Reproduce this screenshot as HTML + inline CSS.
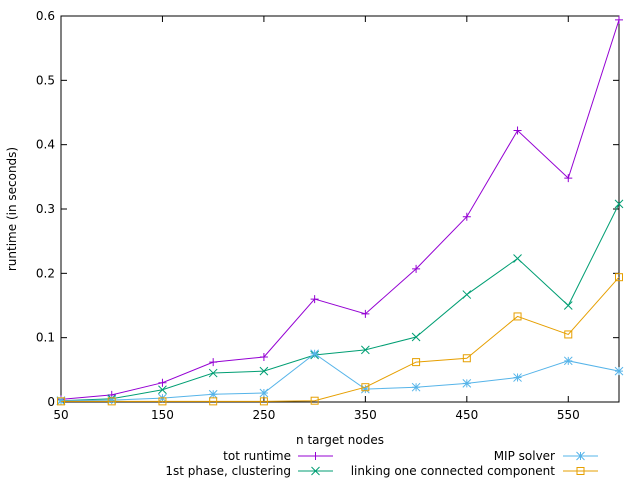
<!DOCTYPE html>
<html><head><meta charset="utf-8"><style>
body{margin:0;background:#fff}
svg{font-family:"DejaVu Sans","Liberation Sans",sans-serif;font-size:12px}
</style></head><body>
<svg id="c" width="640" height="480"></svg>
<script>
const categories=[50,100,150,200,250,300,350,400,450,500,550,600];
const totRuntime=[0.004,0.011,0.030,0.062,0.070,0.160,0.137,0.207,0.288,0.422,0.348,0.594];
const clustering=[0.002,0.005,0.019,0.045,0.048,0.073,0.081,0.101,0.167,0.223,0.150,0.308];
const mipSolver=[0.002,0.003,0.006,0.012,0.014,0.075,0.020,0.023,0.029,0.038,0.064,0.048];
const linking=[0.001,0.001,0.001,0.001,0.001,0.002,0.023,0.062,0.068,0.133,0.105,0.194];
const xTicks=[50,150,250,350,450,550];
const yTicks=[0,0.1,0.2,0.3,0.4,0.5,0.6];
const NS="http://www.w3.org/2000/svg";
const svg=document.getElementById('c');
const L=61,R=619,T=16,B=402;
const xs=v=>L+(v-50)/550*(R-L);
const ys=v=>B-v/0.6*(B-T);
function mk(t,a,p){const e=document.createElementNS(NS,t);for(const k in a)e.setAttribute(k,a[k]);(p||svg).appendChild(e);return e;}
for(const t of yTicks){
 const y=ys(t);
 const g=mk('line',{x1:L,x2:L+6,y1:y,y2:y,stroke:'#000'});
 
 
 mk('line',{x1:R,x2:R-6,y1:y,y2:y,stroke:'#000'});
 const tx=mk('text',{x:L-6,y:y+4,'text-anchor':'end'});tx.textContent=t;
 
 
}
for(const t of xTicks){
 const x=xs(t);
 if(t>50){mk('line',{x1:x,x2:x,y1:B,y2:B-6,stroke:'#000'});mk('line',{x1:x,x2:x,y1:T,y2:T+6,stroke:'#000'});}
 const tx=mk('text',{x:x,y:B+17,'text-anchor':'middle'});tx.textContent=t;
 
 
}
const fr=mk('rect',{x:L,y:T,width:R-L,height:B-T,fill:'none',stroke:'#000'});


function marker(g,type,x,y,c){
 if(type==='plus'){mk('path',{d:`M${x-4} ${y}H${x+4}M${x} ${y-4}V${y+4}`,stroke:c,fill:'none'},g);}
 else if(type==='x'){mk('path',{d:`M${x-4} ${y-4}L${x+4} ${y+4}M${x-4} ${y+4}L${x+4} ${y-4}`,stroke:c,fill:'none'},g);}
 else if(type==='star'){mk('path',{d:`M${x-4} ${y}H${x+4}M${x} ${y-4}V${y+4}M${x-4} ${y-4}L${x+4} ${y+4}M${x-4} ${y+4}L${x+4} ${y-4}`,stroke:c,fill:'none'},g);}
 else {mk('rect',{x:x-3.5,y:y-3.5,width:7,height:7,stroke:c,fill:'none'},g);}
}
const series=[[totRuntime,'#9400d3','plus','tot-runtime'],[clustering,'#009e73','x','clustering'],[mipSolver,'#56b4e9','star','mip-solver'],[linking,'#e69f00','sq','linking']];
for(const [d,c,m,n] of series){
 const g=mk('g',{});
 
 
 mk('polyline',{points:d.map((v,i)=>xs(categories[i])+','+ys(v)).join(' '),fill:'none',stroke:c,'stroke-width':1},g);
 d.forEach((v,i)=>marker(g,m,xs(categories[i]),ys(v),c));
}
const yl=mk('text',{transform:'translate(16,209) rotate(-90)','text-anchor':'middle'});yl.textContent='runtime (in seconds)';


const xl=mk('text',{x:340,y:444,'text-anchor':'middle'});xl.textContent='n target nodes';


const leg=[['tot runtime',291,456,'#9400d3','plus',298,333],['1st phase, clustering',291,471,'#009e73','x',298,333],['MIP solver',555,456,'#56b4e9','star',563,598],['linking one connected component',555,471,'#e69f00','sq',563,598]];
for(const [t,x,y,c,m,a,b] of leg){
 const g=mk('g',{});
 
 
 const tx=mk('text',{x:x,y:y+4,'text-anchor':'end'},g);tx.textContent=t;
 mk('line',{x1:a,x2:b,y1:y,y2:y,stroke:c},g);
 marker(g,m,(a+b)/2,y,c);
}
</script>
</body></html>
